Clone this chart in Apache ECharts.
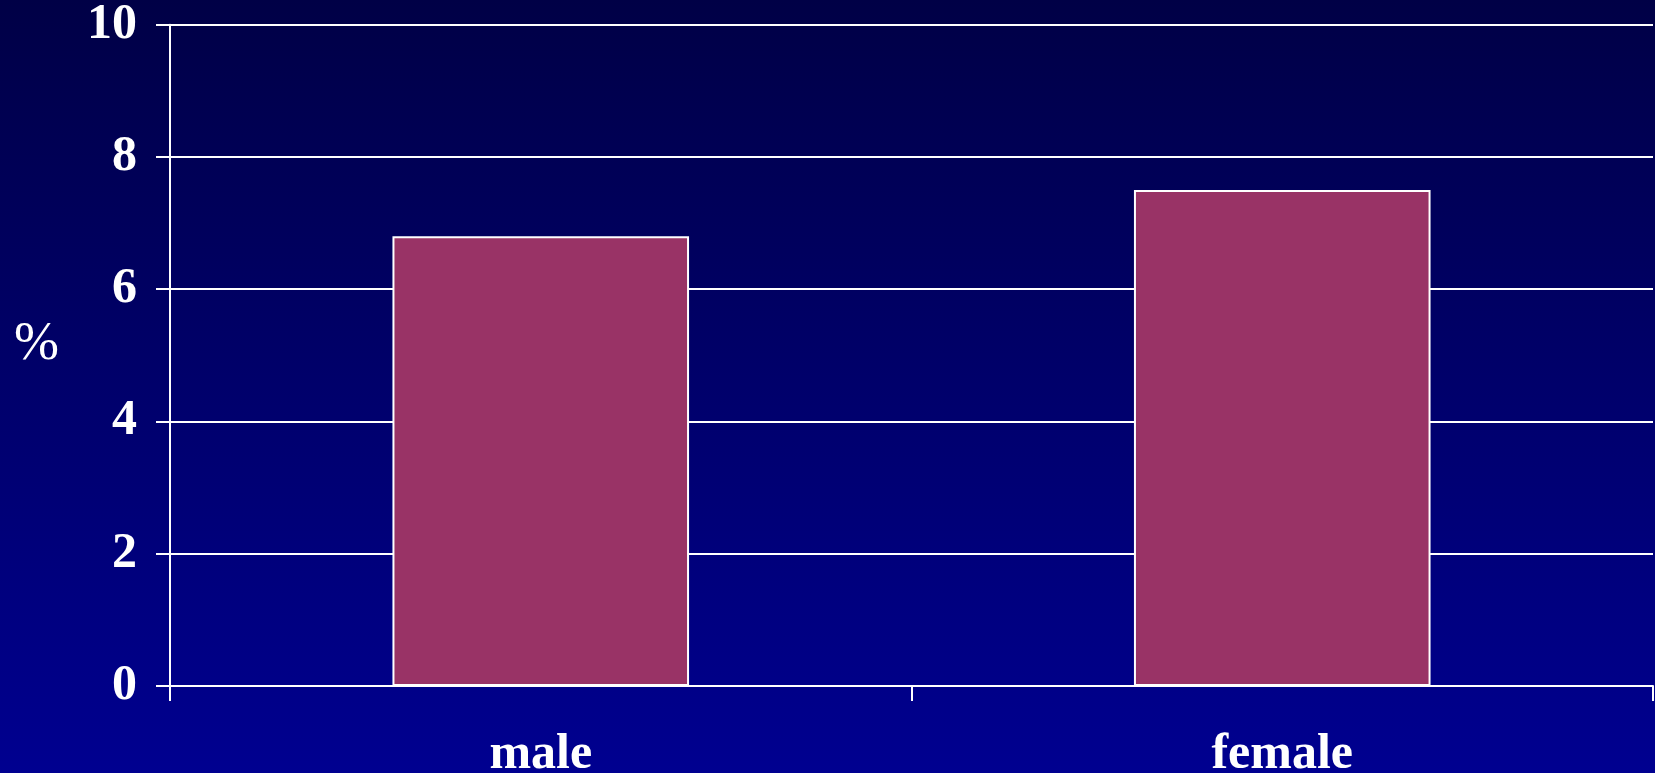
<!DOCTYPE html>
<html>
<head>
<meta charset="utf-8">
<script src="https://cdn.jsdelivr.net/npm/echarts@6/dist/echarts.min.js"></script>
<style>
html,body{margin:0;padding:0;width:1655px;height:773px;overflow:hidden;background:#000070;}
#c{width:1655px;height:773px;}
</style>
</head>
<body>
<div id="c"></div>
<script>
var categories = ['male', 'female'];
var values = [6.8, 7.5];
var yTicks = [0, 2, 4, 6, 8, 10];
var yName = '%';

var chart = echarts.init(document.getElementById('c'), null, {renderer: 'canvas'});
var font = '"Liberation Serif", "Times New Roman", serif';
chart.setOption({
  animation: false,
  backgroundColor: {
    type: 'linear', x: 0, y: 0, x2: 0, y2: 1,
    colorStops: [{offset: 0, color: '#000046'}, {offset: 1, color: '#000090'}]
  },
  grid: {left: 170, right: 2, top: 24.7, bottom: 87, containLabel: false, outerBoundsMode: 'none'},
  xAxis: {
    type: 'category',
    data: categories,
    axisLine: {lineStyle: {color: '#ffffff', width: 2}},
    axisTick: {show: true, length: 15, lineStyle: {color: '#ffffff', width: 2}, alignWithLabel: false},
    axisLabel: {color: '#ffffff', fontFamily: font, fontWeight: 'bold', fontSize: 50, margin: 44}
  },
  yAxis: {
    type: 'value',
    min: yTicks[0], max: yTicks[yTicks.length - 1], interval: 2,
    axisLine: {show: true, lineStyle: {color: '#ffffff', width: 2}},
    axisTick: {show: true, length: 14, lineStyle: {color: '#ffffff', width: 2}},
    splitLine: {show: true, lineStyle: {color: '#ffffff', width: 2}},
    axisLabel: {color: '#ffffff', fontFamily: font, fontWeight: 'bold', fontSize: 50, margin: 33}
  },
  graphic: [{
    type: 'text', left: 14, top: 318,
    style: {text: yName, fill: '#ffffff', font: 'normal 54px ' + font}
  }],
  series: [{
    type: 'bar',
    data: values,
    barWidth: '40%',
    itemStyle: {color: '#993366', borderColor: '#ffffff', borderWidth: 2}
  }]
});
</script>
</body>
</html>
